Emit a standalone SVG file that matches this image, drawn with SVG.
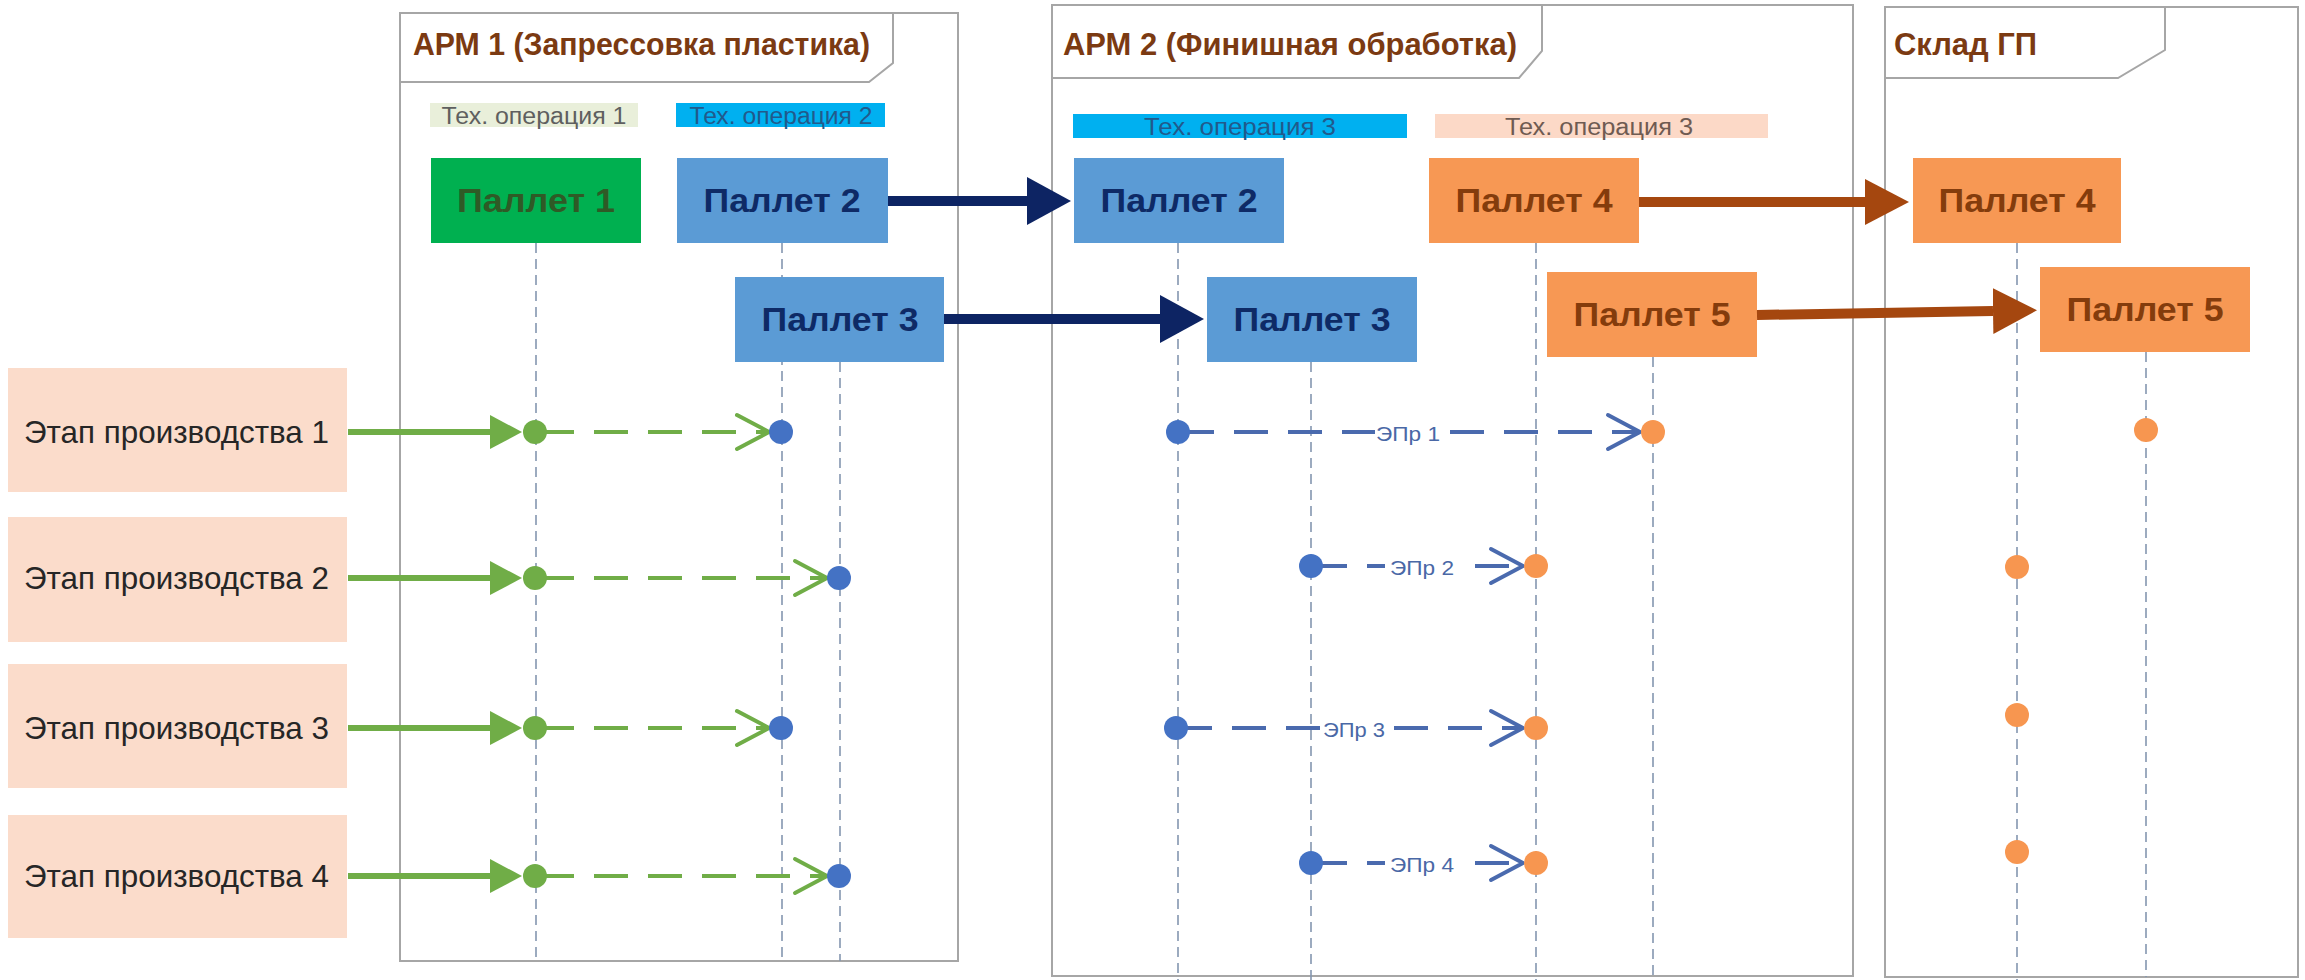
<svg xmlns="http://www.w3.org/2000/svg" width="2305" height="980" viewBox="0 0 2305 980">
  <style>
    text { font-family: "Liberation Sans", Arial, sans-serif; }
    .frame { fill: #ffffff; stroke: #a6a6a6; stroke-width: 2; }
    .tab { fill: none; stroke: #a6a6a6; stroke-width: 2; }
    .title { font-size: 32px; font-weight: bold; fill: #7b3a12; }
    .op { font-size: 23px; text-anchor: middle; }
    .pallet { font-size: 34px; font-weight: bold; text-anchor: middle; }
    .stage-box { fill: #fbdccb; }
    .stage { font-size: 32px; fill: #262626; }
    .life { fill: none; stroke: #8496b0; stroke-width: 1.6; stroke-dasharray: 10 6; }
    .solid-green { fill: none; stroke: #70ad47; stroke-width: 6; }
    .dash-green { fill: none; stroke: #70ad47; stroke-width: 4; stroke-dasharray: 34 20; }
    .dash-blue { fill: none; stroke: #4a6aae; stroke-width: 4; stroke-dasharray: 34 20; }
    .move-navy { fill: none; stroke: #0d2463; stroke-width: 10; }
    .move-brown { fill: none; stroke: #a5470f; stroke-width: 10; }
    .dot-green { fill: #70ad47; }
    .dot-blue { fill: #4472c4; }
    .dot-orange { fill: #f79650; }
    .lbl-bg { fill: #ffffff; }
    .lbl { font-size: 21px; fill: #4a68a6; text-anchor: middle; }
  </style>
  <defs>
    <marker id="tri-green" markerUnits="userSpaceOnUse" markerWidth="32" markerHeight="34" viewBox="0 0 32 34" refX="0" refY="17" orient="auto">
      <path d="M0,0 L32,17 L0,34 z" fill="#70ad47"/>
    </marker>
    <marker id="open-green" markerUnits="userSpaceOnUse" markerWidth="40" markerHeight="42" viewBox="-4 -4 40 42" refX="32" refY="17" orient="auto">
      <path d="M0,0 L32,17 L0,34" fill="none" stroke="#70ad47" stroke-width="4" stroke-linejoin="round" stroke-linecap="round"/>
    </marker>
    <marker id="open-blue" markerUnits="userSpaceOnUse" markerWidth="40" markerHeight="42" viewBox="-4 -4 40 42" refX="32" refY="17" orient="auto">
      <path d="M0,0 L32,17 L0,34" fill="none" stroke="#4a6aae" stroke-width="4" stroke-linejoin="round" stroke-linecap="round"/>
    </marker>
    <marker id="tri-navy" markerUnits="userSpaceOnUse" markerWidth="44" markerHeight="48" viewBox="0 0 44 48" refX="0" refY="24" orient="auto">
      <path d="M0,0 L44,24 L0,48 z" fill="#0d2463"/>
    </marker>
    <marker id="tri-brown" markerUnits="userSpaceOnUse" markerWidth="44" markerHeight="46" viewBox="0 0 44 46" refX="0" refY="23" orient="auto">
      <path d="M0,0 L44,23 L0,46 z" fill="#a5470f"/>
    </marker>
  </defs>

  <rect width="2305" height="980" fill="#ffffff"/>

  <!-- workstation frames -->
  <g id="frame-arm1">
    <rect class="frame" x="400" y="13" width="558" height="948"/>
    <path class="tab" d="M400,82 L869,82 L893,63 L893,13"/>
    <text class="title" x="413" y="55" textLength="457" lengthAdjust="spacingAndGlyphs">АРМ 1 (Запрессовка пластика)</text>
  </g>
  <g id="frame-arm2">
    <rect class="frame" x="1052" y="5" width="801" height="971"/>
    <path class="tab" d="M1052,78 L1519,78 L1542,51 L1542,5"/>
    <text class="title" x="1063" y="55" textLength="454" lengthAdjust="spacingAndGlyphs">АРМ 2 (Финишная обработка)</text>
  </g>
  <g id="frame-warehouse">
    <rect class="frame" x="1885" y="7" width="413" height="970"/>
    <path class="tab" d="M1885,78 L2118,78 L2165,50 L2165,7"/>
    <text class="title" x="1894" y="55" textLength="143" lengthAdjust="spacingAndGlyphs">Склад ГП</text>
  </g>

  <!-- operation bars -->
  <g id="op-1">
    <rect x="430" y="103" width="208" height="24" fill="#e9efda"/>
    <text class="op" x="534" y="124" fill="#5f5f5f" textLength="185" lengthAdjust="spacingAndGlyphs">Тех. операция 1</text>
  </g>
  <g id="op-2">
    <rect x="676" y="103" width="209" height="24" fill="#00b0f0"/>
    <text class="op" x="781" y="124" fill="#215a8c" textLength="183" lengthAdjust="spacingAndGlyphs">Тех. операция 2</text>
  </g>
  <g id="op-3a">
    <rect x="1073" y="114" width="334" height="24" fill="#00b0f0"/>
    <text class="op" x="1240" y="135" fill="#215a8c" textLength="192" lengthAdjust="spacingAndGlyphs">Тех. операция 3</text>
  </g>
  <g id="op-3b">
    <rect x="1435" y="114" width="333" height="24" fill="#fcd9c7"/>
    <text class="op" x="1599" y="135" fill="#6f5b52" textLength="188" lengthAdjust="spacingAndGlyphs">Тех. операция 3</text>
  </g>

  <!-- lifelines -->
  <g id="lifelines">
    <line class="life" x1="536" y1="243" x2="536" y2="961"/>
    <line class="life" x1="782" y1="243" x2="782" y2="961"/>
    <line class="life" x1="840" y1="362" x2="840" y2="961"/>
    <line class="life" x1="1178" y1="243" x2="1178" y2="980"/>
    <line class="life" x1="1311" y1="362" x2="1311" y2="980"/>
    <line class="life" x1="1536" y1="243" x2="1536" y2="980"/>
    <line class="life" x1="1653" y1="357" x2="1653" y2="980"/>
    <line class="life" x1="2017" y1="243" x2="2017" y2="980"/>
    <line class="life" x1="2146" y1="352" x2="2146" y2="977"/>
  </g>

  <!-- pallets -->
  <g id="pallet-1">
    <rect x="431" y="158" width="210" height="85" fill="#00b050"/>
    <text class="pallet" x="536" y="212" fill="#2f5a26" textLength="158" lengthAdjust="spacingAndGlyphs">Паллет 1</text>
  </g>
  <g id="pallet-2-arm1">
    <rect x="677" y="158" width="211" height="85" fill="#5b9bd5"/>
    <text class="pallet" x="782" y="212" fill="#0e2a66" textLength="157" lengthAdjust="spacingAndGlyphs">Паллет 2</text>
  </g>
  <g id="pallet-3-arm1">
    <rect x="735" y="277" width="209" height="85" fill="#5b9bd5"/>
    <text class="pallet" x="840" y="331" fill="#0e2a66" textLength="157" lengthAdjust="spacingAndGlyphs">Паллет 3</text>
  </g>
  <g id="pallet-2-arm2">
    <rect x="1074" y="158" width="210" height="85" fill="#5b9bd5"/>
    <text class="pallet" x="1179" y="212" fill="#0e2a66" textLength="157" lengthAdjust="spacingAndGlyphs">Паллет 2</text>
  </g>
  <g id="pallet-3-arm2">
    <rect x="1207" y="277" width="210" height="85" fill="#5b9bd5"/>
    <text class="pallet" x="1312" y="331" fill="#0e2a66" textLength="157" lengthAdjust="spacingAndGlyphs">Паллет 3</text>
  </g>
  <g id="pallet-4-arm2">
    <rect x="1429" y="158" width="210" height="85" fill="#f79854"/>
    <text class="pallet" x="1534" y="212" fill="#843c0c" textLength="157" lengthAdjust="spacingAndGlyphs">Паллет 4</text>
  </g>
  <g id="pallet-5-arm2">
    <rect x="1547" y="272" width="210" height="85" fill="#f79854"/>
    <text class="pallet" x="1652" y="326" fill="#843c0c" textLength="157" lengthAdjust="spacingAndGlyphs">Паллет 5</text>
  </g>
  <g id="pallet-4-warehouse">
    <rect x="1913" y="158" width="208" height="85" fill="#f79854"/>
    <text class="pallet" x="2017" y="212" fill="#843c0c" textLength="157" lengthAdjust="spacingAndGlyphs">Паллет 4</text>
  </g>
  <g id="pallet-5-warehouse">
    <rect x="2040" y="267" width="210" height="85" fill="#f79854"/>
    <text class="pallet" x="2145" y="321" fill="#843c0c" textLength="157" lengthAdjust="spacingAndGlyphs">Паллет 5</text>
  </g>

  <!-- production stages -->
  <g id="stage-1">
    <rect class="stage-box" x="8" y="368" width="339" height="124"/>
    <text class="stage" x="24" y="443" textLength="305" lengthAdjust="spacingAndGlyphs">Этап производства 1</text>
  </g>
  <g id="stage-2">
    <rect class="stage-box" x="8" y="517" width="339" height="125"/>
    <text class="stage" x="24" y="589" textLength="305" lengthAdjust="spacingAndGlyphs">Этап производства 2</text>
  </g>
  <g id="stage-3">
    <rect class="stage-box" x="8" y="664" width="339" height="124"/>
    <text class="stage" x="24" y="739" textLength="305" lengthAdjust="spacingAndGlyphs">Этап производства 3</text>
  </g>
  <g id="stage-4">
    <rect class="stage-box" x="8" y="815" width="339" height="123"/>
    <text class="stage" x="24" y="887" textLength="305" lengthAdjust="spacingAndGlyphs">Этап производства 4</text>
  </g>

  <!-- connectors -->
  <g id="connectors">
    <!-- pallet transfers between workstations -->
    <line class="move-navy" x1="888" y1="201" x2="1027" y2="201" marker-end="url(#tri-navy)"/>
    <line class="move-navy" x1="944" y1="319" x2="1160" y2="319" marker-end="url(#tri-navy)"/>
    <line class="move-brown" x1="1639" y1="202" x2="1865" y2="202" marker-end="url(#tri-brown)"/>
    <line class="move-brown" x1="1757" y1="315" x2="1993" y2="311" marker-end="url(#tri-brown)"/>

    <!-- stage inputs -->
    <line class="solid-green" x1="348" y1="432" x2="490" y2="432" marker-end="url(#tri-green)"/>
    <line class="solid-green" x1="348" y1="578" x2="490" y2="578" marker-end="url(#tri-green)"/>
    <line class="solid-green" x1="348" y1="728" x2="490" y2="728" marker-end="url(#tri-green)"/>
    <line class="solid-green" x1="348" y1="876" x2="490" y2="876" marker-end="url(#tri-green)"/>

    <!-- operation 1 to operation 2 -->
    <line class="dash-green" x1="540" y1="432" x2="769" y2="432" marker-end="url(#open-green)"/>
    <line class="dash-green" x1="540" y1="578" x2="827" y2="578" marker-end="url(#open-green)"/>
    <line class="dash-green" x1="540" y1="728" x2="769" y2="728" marker-end="url(#open-green)"/>
    <line class="dash-green" x1="540" y1="876" x2="827" y2="876" marker-end="url(#open-green)"/>

    <!-- operation 3 steps -->
    <line class="dash-blue" x1="1180" y1="432" x2="1640" y2="432" marker-end="url(#open-blue)"/>
    <line class="dash-blue" x1="1313" y1="566" x2="1523" y2="566" marker-end="url(#open-blue)"/>
    <line class="dash-blue" x1="1178" y1="728" x2="1523" y2="728" marker-end="url(#open-blue)"/>
    <line class="dash-blue" x1="1313" y1="863" x2="1523" y2="863" marker-end="url(#open-blue)"/>

    <rect class="lbl-bg" x="1375" y="420" width="66" height="26"/>
    <text class="lbl" x="1408" y="441" textLength="64" lengthAdjust="spacingAndGlyphs">ЭПр 1</text>
    <rect class="lbl-bg" x="1385" y="554" width="70" height="26"/>
    <text class="lbl" x="1422" y="575" textLength="64" lengthAdjust="spacingAndGlyphs">ЭПр 2</text>
    <rect class="lbl-bg" x="1322" y="716" width="64" height="26"/>
    <text class="lbl" x="1354" y="737" textLength="62" lengthAdjust="spacingAndGlyphs">ЭПр 3</text>
    <rect class="lbl-bg" x="1385" y="851" width="70" height="26"/>
    <text class="lbl" x="1422" y="872" textLength="64" lengthAdjust="spacingAndGlyphs">ЭПр 4</text>
  </g>

  <!-- event points -->
  <g id="points">
    <circle class="dot-green" cx="535" cy="432" r="12"/>
    <circle class="dot-green" cx="535" cy="578" r="12"/>
    <circle class="dot-green" cx="535" cy="728" r="12"/>
    <circle class="dot-green" cx="535" cy="876" r="12"/>

    <circle class="dot-blue" cx="781" cy="432" r="12"/>
    <circle class="dot-blue" cx="839" cy="578" r="12"/>
    <circle class="dot-blue" cx="781" cy="728" r="12"/>
    <circle class="dot-blue" cx="839" cy="876" r="12"/>

    <circle class="dot-blue" cx="1178" cy="432" r="12"/>
    <circle class="dot-blue" cx="1311" cy="566" r="12"/>
    <circle class="dot-blue" cx="1176" cy="728" r="12"/>
    <circle class="dot-blue" cx="1311" cy="863" r="12"/>

    <circle class="dot-orange" cx="1653" cy="432" r="12"/>
    <circle class="dot-orange" cx="1536" cy="566" r="12"/>
    <circle class="dot-orange" cx="1536" cy="728" r="12"/>
    <circle class="dot-orange" cx="1536" cy="863" r="12"/>

    <circle class="dot-orange" cx="2146" cy="430" r="12"/>
    <circle class="dot-orange" cx="2017" cy="567" r="12"/>
    <circle class="dot-orange" cx="2017" cy="715" r="12"/>
    <circle class="dot-orange" cx="2017" cy="852" r="12"/>
  </g>
</svg>
